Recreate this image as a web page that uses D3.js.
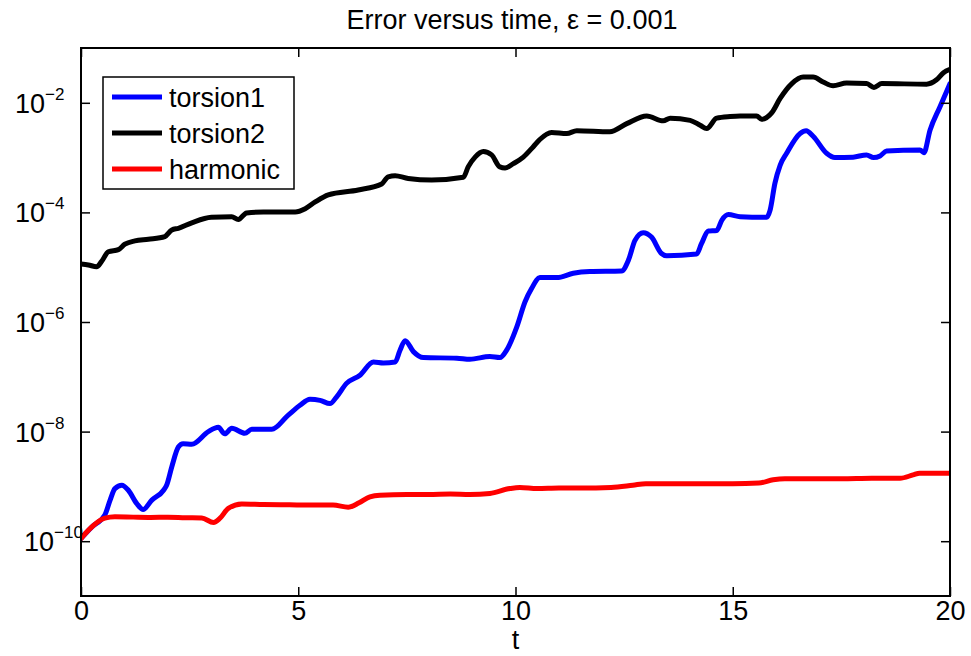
<!DOCTYPE html>
<html>
<head>
<meta charset="utf-8">
<script src="https://cdn.jsdelivr.net/npm/d3@7"></script>
<style>
  html, body { margin: 0; padding: 0; background: #fff; }
  svg text { font-family: "Liberation Sans", Arial, Helvetica, sans-serif; fill: #000; }
</style>
</head>
<body>
<svg id="chart" width="971" height="656"></svg>
<script>
// Time samples and error values for each integrator
const tTorsion1 = [0, 0.25, 0.55, 0.67, 0.78, 0.94, 1.09, 1.28, 1.43, 1.63, 1.9, 1.97, 2.09, 2.24, 2.35, 2.55, 2.93, 3.16, 3.31, 3.47, 3.77, 3.93, 4.39, 4.77, 5.04, 5.27, 5.5, 5.73, 5.88, 6.11, 6.42, 6.73, 6.96, 7.23, 7.34, 7.46, 7.65, 7.88, 8.65, 8.95, 9.41, 9.64, 9.8, 10.03, 10.22, 10.37, 10.56, 10.95, 11.33, 11.71, 12.44, 12.6, 12.75, 12.94, 13.13, 13.36, 13.48, 14.17, 14.28, 14.44, 14.63, 14.75, 14.9, 15.17, 15.78, 15.86, 15.97, 16.09, 16.24, 16.55, 16.69, 16.85, 17.16, 17.35, 17.77, 18.08, 18.24, 18.39, 18.54, 19.31, 19.4, 19.54, 19.77, 20];
const torsion1 = [1.12e-10, 1.82e-10, 3.02e-10, 5.62e-10, 9.12e-10, 1.05e-9, 8.51e-10, 4.90e-10, 3.80e-10, 5.62e-10, 8.51e-10, 1.05e-9, 2.29e-9, 5.25e-9, 6.03e-9, 5.89e-9, 1.00e-8, 1.20e-8, 9.12e-9, 1.15e-8, 9.33e-9, 1.10e-8, 1.10e-8, 2.00e-8, 3.02e-8, 3.89e-8, 3.72e-8, 3.24e-8, 4.27e-8, 7.59e-8, 1.07e-7, 1.86e-7, 1.78e-7, 1.86e-7, 3.02e-7, 4.57e-7, 2.88e-7, 2.24e-7, 2.19e-7, 2.09e-7, 2.34e-7, 2.24e-7, 3.09e-7, 8.13e-7, 2.34e-6, 4.07e-6, 6.46e-6, 6.46e-6, 7.76e-6, 8.32e-6, 8.51e-6, 1.35e-5, 3.09e-5, 4.27e-5, 3.55e-5, 1.78e-5, 1.62e-5, 1.74e-5, 2.69e-5, 4.57e-5, 4.68e-5, 7.24e-5, 9.12e-5, 8.32e-5, 8.13e-5, 1.10e-4, 3.39e-4, 7.24e-4, 1.20e-3, 2.75e-3, 3.09e-3, 2.45e-3, 1.20e-3, 1.00e-3, 1.02e-3, 1.12e-3, 1.00e-3, 1.07e-3, 1.32e-3, 1.38e-3, 1.23e-3, 3.16e-3, 8.51e-3, 2.24e-2];

const tTorsion2 = [0, 0.17, 0.36, 0.47, 0.63, 0.86, 1.01, 1.24, 1.55, 1.93, 2.09, 2.24, 2.55, 3.0, 3.47, 3.62, 3.81, 4.2, 4.93, 5.16, 5.39, 5.69, 6.38, 6.92, 7.07, 7.23, 7.53, 8.07, 8.8, 8.91, 9.07, 9.26, 9.45, 9.64, 9.76, 9.95, 10.18, 10.41, 10.56, 10.83, 11.18, 11.41, 12.17, 12.56, 13.02, 13.4, 13.56, 14.02, 14.25, 14.4, 14.63, 14.94, 15.17, 15.55, 15.66, 15.9, 16.09, 16.36, 16.62, 16.85, 17.08, 17.31, 17.62, 18.08, 18.25, 18.43, 19.46, 19.69, 19.85, 20];
const torsion2 = [1.15e-5, 1.10e-5, 1.02e-5, 1.26e-5, 1.91e-5, 2.09e-5, 2.63e-5, 3.02e-5, 3.24e-5, 3.63e-5, 4.79e-5, 5.13e-5, 6.46e-5, 8.13e-5, 8.32e-5, 7.41e-5, 9.77e-5, 1.02e-4, 1.02e-4, 1.17e-4, 1.55e-4, 2.09e-4, 2.57e-4, 3.31e-4, 4.47e-4, 4.68e-4, 4.17e-4, 3.89e-4, 4.37e-4, 6.76e-4, 1.02e-3, 1.29e-3, 1.12e-3, 6.76e-4, 6.46e-4, 7.76e-4, 1.02e-3, 1.58e-3, 2.14e-3, 2.88e-3, 2.75e-3, 3.09e-3, 2.95e-3, 4.17e-3, 5.75e-3, 4.68e-3, 5.25e-3, 4.79e-3, 3.89e-3, 3.39e-3, 5.25e-3, 5.62e-3, 5.75e-3, 5.75e-3, 5.01e-3, 6.61e-3, 1.20e-2, 2.24e-2, 2.95e-2, 2.95e-2, 2.40e-2, 2.04e-2, 2.29e-2, 2.24e-2, 1.91e-2, 2.24e-2, 2.19e-2, 2.63e-2, 3.55e-2, 4.07e-2];

const tHarmonic = [0, 0.1, 0.25, 0.4, 0.55, 0.78, 1.2, 1.6, 2.0, 2.4, 2.78, 3.05, 3.2, 3.39, 3.7, 4.2, 4.8, 5.3, 5.8, 6.15, 6.4, 6.65, 6.88, 7.5, 8.0, 8.5, 8.95, 9.41, 9.87, 10.1, 10.5, 11.0, 11.5, 12.2, 12.7, 13.0, 13.5, 14.0, 14.5, 15.0, 15.6, 15.93, 16.2, 16.8, 17.5, 18.2, 18.85, 19.15, 19.3, 20];
const harmonic = [1.12e-10, 1.38e-10, 1.82e-10, 2.29e-10, 2.63e-10, 2.79e-10, 2.75e-10, 2.72e-10, 2.75e-10, 2.69e-10, 2.66e-10, 2.19e-10, 2.63e-10, 3.98e-10, 4.79e-10, 4.68e-10, 4.62e-10, 4.57e-10, 4.57e-10, 4.17e-10, 5.01e-10, 6.46e-10, 6.92e-10, 7.08e-10, 7.08e-10, 7.24e-10, 7.08e-10, 7.41e-10, 9.12e-10, 9.55e-10, 9.12e-10, 9.33e-10, 9.33e-10, 9.55e-10, 1.05e-9, 1.12e-9, 1.12e-9, 1.12e-9, 1.12e-9, 1.12e-9, 1.15e-9, 1.32e-9, 1.38e-9, 1.38e-9, 1.38e-9, 1.41e-9, 1.41e-9, 1.62e-9, 1.74e-9, 1.74e-9];

const seriesNames = ["torsion1", "torsion2", "harmonic"];
const seriesColors = ["#0000ff", "#000000", "#ff0000"];

const xTicks = [0, 5, 10, 15, 20];
const yTickExponents = [-10, -8, -6, -4, -2];

const titleText = "Error versus time, \u03b5 = 0.001";
const xLabelText = "t";

// Layout
const margin = { left: 81, right: 21, top: 48, bottom: 60 };
const W = 971, H = 656;
const plotW = W - margin.left - margin.right;   // 869
const plotH = H - margin.top - margin.bottom;   // 548

const svg = d3.select("#chart");

const x = d3.scaleLinear().domain([0, 20]).range([margin.left, margin.left + plotW]);
const y = d3.scaleLog().domain([1e-11, 1e-1]).range([margin.top + plotH, margin.top]);

const series = [
  { name: seriesNames[0], color: seriesColors[0], t: tTorsion1, v: torsion1 },
  { name: seriesNames[1], color: seriesColors[1], t: tTorsion2, v: torsion2 },
  { name: seriesNames[2], color: seriesColors[2], t: tHarmonic, v: harmonic }
];

// Clip curves to the axes box
svg.append("defs").append("clipPath").attr("id", "plotClip")
  .append("rect")
  .attr("x", margin.left).attr("y", margin.top)
  .attr("width", plotW).attr("height", plotH);

const line = d3.line()
  .x(d => x(d[0]))
  .y(d => y(d[1]))
  .curve(d3.curveMonotoneX);

const curves = svg.append("g").attr("clip-path", "url(#plotClip)");
// draw black first, then blue and red on top
[series[1], series[0], series[2]].forEach(s => {
  curves.append("path")
    .datum(s.t.map((t, i) => [t, s.v[i]]))
    .attr("d", line)
    .attr("fill", "none")
    .attr("stroke", s.color)
    .attr("stroke-width", 5)
    .attr("stroke-linejoin", "round")
    .attr("stroke-linecap", "round");
});

// Axes: inward ticks on all four sides
const tickLen = 9;
const xBottom = d3.axisBottom(x).tickValues(xTicks).tickSizeInner(-tickLen).tickSizeOuter(0).tickPadding(5).tickFormat(d3.format("d"));
const xTop = d3.axisTop(x).tickValues(xTicks).tickSizeInner(-tickLen).tickSizeOuter(0).tickFormat("");
const yVals = yTickExponents.map(e => Math.pow(10, e));
const yLeft = d3.axisLeft(y).tickValues(yVals).tickSizeInner(-tickLen).tickSizeOuter(0).tickFormat("");
const yRight = d3.axisRight(y).tickValues(yVals).tickSizeInner(-tickLen).tickSizeOuter(0).tickFormat("");

function styleAxis(g, w) {
  g.select(".domain").remove();
  g.selectAll(".tick line").attr("stroke", "#000").attr("stroke-width", w);
}

const gxb = svg.append("g").attr("transform", `translate(0,${margin.top + plotH})`).call(xBottom);
styleAxis(gxb, 1.5);
gxb.selectAll(".tick text")
  .attr("font-size", 27)
  .attr("font-family", "Liberation Sans, Arial, sans-serif")
  .attr("fill", "#000");

const gxt = svg.append("g").attr("transform", `translate(0,${margin.top})`).call(xTop);
styleAxis(gxt, 1.5);
const gyl = svg.append("g").attr("transform", `translate(${margin.left},0)`).call(yLeft);
styleAxis(gyl, 1.5);
const gyr = svg.append("g").attr("transform", `translate(${margin.left + plotW},0)`).call(yRight);
styleAxis(gyr, 1.5);

// Axes box
svg.append("rect")
  .attr("x", margin.left).attr("y", margin.top)
  .attr("width", plotW).attr("height", plotH)
  .attr("fill", "none").attr("stroke", "#000").attr("stroke-width", 2);

// Power-of-ten labels on the log axis
yTickExponents.forEach(e => {
  const yy = y(Math.pow(10, e));
  const extra = (String(Math.abs(e)).length - 1) * 9;
  svg.append("text")
    .attr("x", 45 + extra).attr("y", yy + 10)
    .attr("font-size", 27)
    .attr("text-anchor", "end")
    .text("10");
  svg.append("text")
    .attr("x", 45 + extra).attr("y", yy - 3)
    .attr("font-size", 17)
    .attr("text-anchor", "start")
    .text("\u2212" + Math.abs(e));
});

// Title and axis label
svg.append("text")
  .attr("x", 512).attr("y", 29)
  .attr("text-anchor", "middle")
  .attr("font-size", 27)
  .text(titleText);

svg.append("text")
  .attr("x", x(10)).attr("y", 649)
  .attr("text-anchor", "middle")
  .attr("font-size", 27)
  .text(xLabelText);

// Legend
const legend = svg.append("g");
legend.append("rect")
  .attr("x", 103).attr("y", 77)
  .attr("width", 191).attr("height", 112)
  .attr("fill", "#fff").attr("stroke", "#000").attr("stroke-width", 1.5);

series.forEach((s, i) => {
  const ly = 97 + i * 36;
  legend.append("line")
    .attr("x1", 112).attr("x2", 162)
    .attr("y1", ly).attr("y2", ly)
    .attr("stroke", s.color).attr("stroke-width", 5);
  legend.append("text")
    .attr("x", 169).attr("y", ly + 10)
    .attr("font-size", 27)
    .text(s.name);
});
</script>
</body>
</html>
